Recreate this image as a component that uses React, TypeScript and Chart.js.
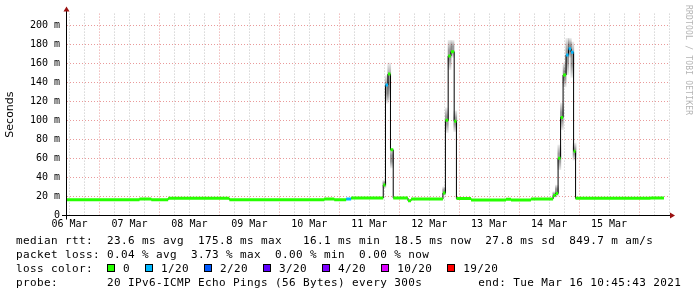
import React, { useEffect, useRef } from 'react';
import { Chart, registerables } from 'chart.js';

Chart.register(...registerables);

// x axis: hours since 06 Mar 00:00
const xStartH = 11;
const xEndH = 252;
const dayLabels = ['06 Mar', '07 Mar', '08 Mar', '09 Mar', '10 Mar', '11 Mar', '12 Mar', '13 Mar', '14 Mar', '15 Mar'];

// median rtt segments (start hour, value in ms, loss level index)
const segStartH = [11, 40, 44.75, 51.5, 76, 114, 118, 122.75, 124.75, 137.6, 138.5, 139.5, 140.5, 141.6, 147.5, 148.75, 161.5, 162.5, 163.6, 164.7, 166.0, 166.9, 172.75, 186.75, 188.75, 196.75, 205.6, 206.6, 207.6, 208.6, 209.6, 210.8, 211.8, 212.8, 213.8, 214.6, 244.6];
const segLastEndH = 250;
const medianMs = [16.6, 17.2, 16.6, 18.0, 16.6, 17.3, 16.6, 17.3, 18.4, 32, 137, 148.5, 69, 18.4, 15.6, 17.2, 23.5, 100, 167.5, 172, 99, 17.8, 16.4, 17.0, 16.4, 17.4, 21, 23, 60, 103, 147.5, 168.5, 175, 171.5, 67.5, 18.0, 18.5];
const lossIdx = [0, 0, 0, 0, 0, 0, 0, 1, 0, 0, 1, 0, 0, 0, 0, 0, 0, 0, 0, 0, 0, 0, 0, 0, 0, 0, 0, 0, 0, 0, 0, 1, 1, 1, 0, 0, 0];

// smoke (ping spread) around the spike samples
const smokeCenterH = [138.05, 139.0, 140.0, 141.05, 162.0, 163.05, 164.15, 165.35, 166.45, 206.1, 207.1, 208.1, 209.1, 210.2, 211.3, 212.3, 213.3, 214.2];
const smokeLowMs = [29, 118, 121, 50, 21, 87, 153, 166, 88, 19, 20, 48, 90, 135, 148, 166, 145, 58];
const smokeHighMs = [37, 147, 160, 70, 30, 113, 184, 184, 110, 25, 32, 74, 118, 160, 186, 186, 182, 76];

const lossLabels = ['0', '1/20', '2/20', '3/20', '4/20', '10/20', '19/20'];
const lossColors = ['#26ff00', '#00b8ff', '#0059ff', '#5e00ff', '#7e00ff', '#dd00ff', '#ff0000'];

const yMaxMs = 212;

const statLines = [
  'median rtt:  23.6 ms avg  175.8 ms max   16.1 ms min  18.5 ms now  27.8 ms sd  849.7 m am/s',
  'packet loss: 0.04 % avg  3.73 % max  0.00 % min  0.00 % now',
];
const lossTitle = 'loss color:  ';
const probeLine = 'probe:       20 IPv6-ICMP Echo Pings (56 Bytes) every 300s        end: Tue Mar 16 10:45:43 2021';
const watermark = 'RRDTOOL / TOBI OETIKER';

const MAJOR = 'rgba(225,120,120,0.75)';
const MINOR = 'rgba(170,170,170,0.7)';

const rrdAxes = {
  id: 'rrdAxes',
  afterDraw(chart: any) {
    const { ctx, chartArea: a } = chart;
    const ax = Math.round(a.left) - 0.5;
    const ay = Math.round(a.bottom) - 0.5;
    ctx.save();
    ctx.strokeStyle = '#000';
    ctx.lineWidth = 1;
    ctx.beginPath();
    ctx.moveTo(ax, a.bottom + 4);
    ctx.lineTo(ax, a.top - 3);
    ctx.moveTo(a.left - 5, ay);
    ctx.lineTo(a.right + 2, ay);
    ctx.stroke();
    ctx.fillStyle = '#9a1010';
    ctx.beginPath();
    ctx.moveTo(ax - 3, a.top - 2);
    ctx.lineTo(ax + 3, a.top - 2);
    ctx.lineTo(ax, a.top - 7);
    ctx.closePath();
    ctx.fill();
    ctx.beginPath();
    ctx.moveTo(a.right + 1, ay - 3);
    ctx.lineTo(a.right + 1, ay + 3);
    ctx.lineTo(a.right + 6, ay);
    ctx.closePath();
    ctx.fill();
    ctx.restore();
  },
};

export default function App() {
  const ref = useRef<HTMLCanvasElement>(null);

  useEffect(() => {
    const canvas = ref.current;
    if (!canvas) return;

    const segEnd = (i: number) => (i + 1 < segStartH.length ? segStartH[i + 1] : segLastEndH);

    const medianLine = segStartH.map((x, i) => ({ x, y: medianMs[i] }));
    medianLine.push({ x: segLastEndH, y: medianMs[medianMs.length - 1] });

    const lossSets = lossLabels.map((label, k) => {
      const pts: any[] = [];
      segStartH.forEach((s, i) => {
        if (lossIdx[i] === k) {
          const e = segEnd(i);
          pts.push({ x: s, y: medianMs[i] }, { x: e, y: medianMs[i] }, { x: e, y: null });
        }
      });
      return {
        type: 'line',
        label,
        data: pts,
        borderColor: lossColors[k],
        backgroundColor: lossColors[k],
        borderWidth: 3,
        borderCapStyle: 'butt',
        pointRadius: 0,
        spanGaps: false,
        tension: 0,
        order: 0,
      };
    });

    const smoke = {
      type: 'bar',
      label: 'smoke',
      data: smokeCenterH.map((x, i) => ({ x, y: [smokeLowMs[i], smokeHighMs[i]] })),
      barThickness: 3,
      grouped: false,
      borderWidth: 0,
      order: 2,
      backgroundColor: (c: any) => {
        const chart = c.chart;
        const raw = c.raw;
        if (!chart.chartArea || !raw || !Array.isArray(raw.y)) return 'rgba(0,0,0,0.25)';
        const y = chart.scales.y;
        const top = y.getPixelForValue(raw.y[1]);
        const bot = y.getPixelForValue(raw.y[0]);
        if (!isFinite(top) || !isFinite(bot) || top === bot) return 'rgba(0,0,0,0.25)';
        const g = chart.ctx.createLinearGradient(0, top, 0, bot);
        g.addColorStop(0, 'rgba(0,0,0,0.08)');
        g.addColorStop(0.35, 'rgba(0,0,0,0.4)');
        g.addColorStop(0.65, 'rgba(0,0,0,0.4)');
        g.addColorStop(1, 'rgba(0,0,0,0.08)');
        return g;
      },
    };

    const xTicks: number[] = [];
    for (let h = 12; h <= xEndH; h += 6) xTicks.push(h);
    const yTicks: number[] = [];
    for (let v = 0; v <= 210; v += 10) yTicks.push(v);

    const chart = new Chart(canvas, {
      type: 'line',
      data: {
        datasets: [
          ...lossSets,
          {
            type: 'line',
            label: 'median',
            data: medianLine,
            borderColor: '#000',
            borderWidth: 1,
            pointRadius: 0,
            stepped: true,
            order: 1,
          },
          smoke,
        ] as any,
      },
      options: {
        responsive: false,
        animation: false,
        events: [],
        layout: { padding: { left: 0, top: 13.6, right: 28, bottom: 61.5 } },
        plugins: { legend: { display: false }, tooltip: { enabled: false } },
        scales: {
          x: {
            type: 'linear',
            min: xStartH,
            max: xEndH,
            offset: false,
            afterBuildTicks: (s: any) => {
              s.ticks = xTicks.map((v) => ({ value: v }));
            },
            afterFit: (s: any) => {
              s.height = 20;
            },
            grid: {
              offset: false,
              drawTicks: false,
              lineWidth: 1,
              color: (c: any) => (c.tick && c.tick.value % 24 === 0 ? MAJOR : MINOR),
            },
            border: { display: false, dash: [1, 2] },
            ticks: {
              autoSkip: false,
              maxRotation: 0,
              minRotation: 0,
              padding: 3,
              color: '#000',
              font: { family: 'DejaVu Sans Mono', size: 10 },
              callback: (v: any) => {
                const h = Number(v);
                if ((h - 12) % 24 !== 0) return '';
                return dayLabels[(h - 12) / 24] || '';
              },
            },
          },
          y: {
            type: 'linear',
            min: 0,
            max: yMaxMs,
            afterBuildTicks: (s: any) => {
              s.ticks = yTicks.map((v) => ({ value: v }));
            },
            afterFit: (s: any) => {
              s.width = 67;
            },
            grid: {
              drawTicks: false,
              lineWidth: 1,
              color: (c: any) => (c.tick && c.tick.value % 20 === 0 ? MAJOR : MINOR),
            },
            border: { display: false, dash: [1, 2] },
            ticks: {
              padding: 7,
              color: '#000',
              font: { family: 'DejaVu Sans Mono', size: 10 },
              callback: (v: any) => {
                const n = Number(v);
                if (n === 0) return '0';
                return n % 20 === 0 ? `${n} m` : '';
              },
            },
            title: {
              display: true,
              text: 'Seconds',
              color: '#000',
              font: { family: 'DejaVu Sans', size: 11 },
              padding: { top: 4, bottom: 0 },
            },
          },
        },
      } as any,
      plugins: [rrdAxes],
    });

    return () => chart.destroy();
  }, []);

  const mono: React.CSSProperties = {
    fontFamily: '"DejaVu Sans Mono", monospace',
    fontSize: '11px',
    letterSpacing: '0.38px',
    lineHeight: '14px',
    whiteSpace: 'pre',
    color: '#000',
  };

  return (
    <div style={{ position: 'absolute', left: 0, top: 0, width: 697, height: 297, background: '#fff', overflow: 'hidden' }}>
      <canvas ref={ref} width={697} height={297} style={{ position: 'absolute', left: 0, top: 0, width: 697, height: 297 }} />
      <div style={{ ...mono, position: 'absolute', left: 16, top: 234 }}>
        <div>{statLines[0]}</div>
        <div>{statLines[1]}</div>
        <div>
          {lossTitle}
          {lossLabels.map((l, i) => (
            <span key={l}>
              <span
                style={{
                  display: 'inline-block',
                  boxSizing: 'border-box',
                  width: 8,
                  height: 8,
                  border: '1px solid #000',
                  background: lossColors[i],
                  marginRight: 8,
                  verticalAlign: 'baseline',
                }}
              />
              <span style={{ marginRight: 15 }}>{l}</span>
            </span>
          ))}
        </div>
        <div>{probeLine}</div>
      </div>
      <div
        style={{
          position: 'absolute',
          left: 683,
          top: 5,
          writingMode: 'vertical-rl',
          fontFamily: '"DejaVu Sans Mono", monospace',
          fontSize: '8px',
          letterSpacing: '0.2px',
          lineHeight: '10px',
          color: '#b4b4b4',
          whiteSpace: 'pre',
        }}
      >
        {watermark}
      </div>
    </div>
  );
}
